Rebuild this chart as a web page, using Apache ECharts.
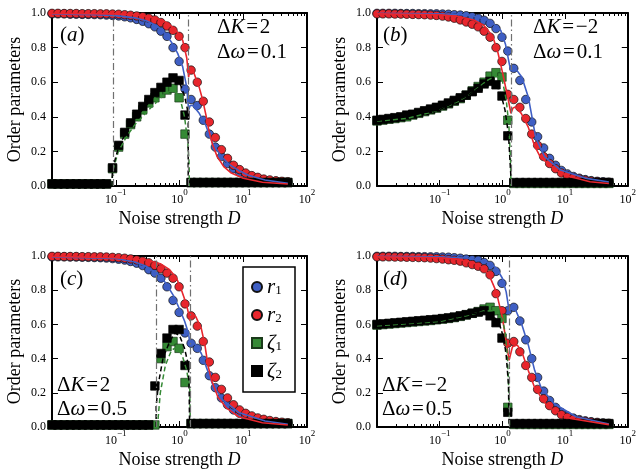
<!DOCTYPE html>
<html>
<head>
<meta charset="utf-8">
<script src="https://cdn.jsdelivr.net/npm/echarts@6/dist/echarts.min.js"></script>
<style>
  html, body { margin: 0; padding: 0; background: #fff; }
  #chart-container { width: 639px; height: 470px; }
</style>
</head>
<body>
<div id="chart-container"></div>
<script>
var dom = document.getElementById("chart-container");
var myChart = echarts.init(dom, null, { renderer: "canvas" });

// noise strengths of the simulation points (log spaced, 0.01 .. 50)
const D = [0.0100, 0.0124, 0.0155, 0.0193, 0.0240, 0.0298, 0.0371, 0.0462, 0.0575, 0.0715,
  0.0890, 0.111, 0.138, 0.171, 0.213, 0.265, 0.330, 0.411, 0.511, 0.636,
  0.791, 0.985, 1.22, 1.52, 1.90, 2.36, 2.94, 3.65, 4.55, 5.66,
  7.04, 8.76, 10.9, 13.6, 16.9, 21.0, 26.1, 32.5, 40.4, 50.0];

const majorTicks = [0.1, 1, 10, 100];
const minorTicks = [0.02, 0.03, 0.04, 0.05, 0.06, 0.07, 0.08, 0.09,
  0.2, 0.3, 0.4, 0.5, 0.6, 0.7, 0.8, 0.9,
  2, 3, 4, 5, 6, 7, 8, 9, 20, 30, 40, 50, 60, 70, 80, 90];

// ---- panel (a): dK = 2, dw = 0.1
const aR1 = [0.995,0.995,0.995,0.993,0.993,0.992,0.992,0.991,0.99,0.988,
  0.986,0.983,0.978,0.972,0.963,0.952,0.938,0.92,0.895,0.865,
  0.80,0.72,0.56,0.50,0.465,0.38,0.30,0.225,0.17,0.13,
  0.10,0.08,0.065,0.05,0.042,0.035,0.03,0.027,0.024,0.022];
const aR2 = [0.998,0.998,0.997,0.997,0.997,0.996,0.996,0.996,0.995,0.995,
  0.994,0.993,0.99,0.987,0.983,0.978,0.97,0.96,0.945,0.925,
  0.90,0.865,0.80,0.67,0.60,0.49,0.37,0.28,0.21,0.16,
  0.12,0.095,0.075,0.06,0.05,0.04,0.035,0.03,0.027,0.025];
const aZ1 = [0.012,0.012,0.012,0.012,0.012,0.012,0.012,0.012,0.012,0.012,
  0.10,0.225,0.30,0.355,0.40,0.44,0.48,0.51,0.535,0.555,
  0.565,0.51,0.30,0.02,0.02,0.02,0.02,0.02,0.02,0.02,
  0.02,0.02,0.02,0.02,0.02,0.02,0.02,0.02,0.02,0.02];
const aZ2 = [0.012,0.012,0.012,0.012,0.012,0.012,0.012,0.012,0.012,0.012,
  0.105,0.235,0.31,0.365,0.415,0.46,0.50,0.54,0.57,0.60,
  0.625,0.61,0.41,0.02,0.02,0.02,0.02,0.02,0.02,0.02,
  0.02,0.02,0.02,0.02,0.02,0.02,0.02,0.02,0.02,0.02];
const aR1Line = [[0.01,0.995],[0.05,0.99],[0.1,0.985],[0.2,0.972],[0.3,0.955],[0.45,0.925],[0.62,0.875],
  [0.8,0.815],[0.94,0.765],[1.12,0.69],[1.3,0.57],[1.39,0.44],[1.47,0.465],[1.61,0.467],[2.04,0.42],
  [2.59,0.35],[3.28,0.25],[4.0,0.2],[4.7,0.165],[6,0.125],[8.5,0.09],[12,0.062],[22,0.035],[50,0.015]];
const aR2Line = [[0.01,0.998],[0.1,0.995],[0.2,0.99],[0.3,0.982],[0.45,0.968],[0.6,0.948],[0.8,0.915],
  [1.0,0.875],[1.125,0.84],[1.3,0.74],[1.39,0.63],[1.47,0.685],[1.6,0.675],[2.04,0.57],[2.3,0.50],
  [2.6,0.41],[2.9,0.32],[3.3,0.24],[3.9,0.17],[5,0.11],[6.5,0.075],[10,0.045],[20,0.022],[50,0.012]];
const aZ1Line = [[0.087,0],[0.09,0.09],[0.11,0.2],[0.15,0.29],[0.2,0.355],[0.3,0.425],[0.45,0.49],
  [0.6,0.535],[0.8,0.555],[1.0,0.52],[1.2,0.40],[1.35,0.25],[1.42,0.12],[1.42,0]];
const aZ2Line = [[0.087,0],[0.089,0.10],[0.11,0.22],[0.14,0.30],[0.2,0.39],[0.3,0.465],[0.45,0.54],
  [0.6,0.59],[0.8,0.615],[1.0,0.6],[1.2,0.52],[1.32,0.45],[1.37,0.40],[1.37,0]];
const aTrans = [0.087, 1.39];

// ---- panel (b): dK = -2, dw = 0.1
const bR1 = [0.998,0.998,0.998,0.998,0.997,0.997,0.997,0.996,0.996,0.995,
  0.995,0.994,0.993,0.99,0.988,0.984,0.978,0.97,0.958,0.94,
  0.91,0.86,0.78,0.68,0.61,0.50,0.37,0.285,0.22,0.16,
  0.12,0.09,0.07,0.055,0.045,0.037,0.031,0.027,0.024,0.022];
const bR2 = [0.995,0.995,0.995,0.994,0.994,0.993,0.992,0.991,0.99,0.988,
  0.986,0.982,0.977,0.97,0.96,0.948,0.935,0.92,0.895,0.86,
  0.80,0.72,0.53,0.50,0.455,0.39,0.30,0.235,0.17,0.13,
  0.10,0.075,0.06,0.048,0.04,0.033,0.028,0.025,0.022,0.02];
const bZ1 = [0.376,0.381,0.386,0.39,0.395,0.40,0.41,0.42,0.43,0.44,
  0.45,0.462,0.475,0.49,0.505,0.525,0.55,0.575,0.60,0.635,
  0.655,0.63,0.38,0.015,0.015,0.015,0.015,0.015,0.015,0.015,
  0.015,0.015,0.015,0.015,0.015,0.015,0.015,0.015,0.015,0.015];
const bZ2 = [0.38,0.385,0.39,0.395,0.40,0.41,0.415,0.425,0.435,0.445,
  0.455,0.467,0.48,0.495,0.51,0.525,0.545,0.565,0.59,0.605,
  0.585,0.52,0.29,0.02,0.02,0.02,0.02,0.02,0.02,0.02,
  0.02,0.02,0.02,0.02,0.02,0.02,0.02,0.02,0.02,0.02];
const bR1Line = [[0.01,0.998],[0.1,0.996],[0.3,0.988],[0.62,0.957],[0.94,0.90],[1.12,0.82],[1.3,0.70],
  [1.37,0.665],[1.45,0.68],[1.61,0.68],[2.04,0.63],[2.59,0.515],[3.0,0.39],[3.4,0.28],[4.7,0.17],
  [8.5,0.092],[22,0.044],[50,0.023]];
const bR2Line = [[0.01,0.995],[0.1,0.99],[0.2,0.98],[0.35,0.96],[0.5,0.93],[0.7,0.865],[0.85,0.77],
  [1.0,0.66],[1.24,0.50],[1.37,0.42],[1.47,0.45],[1.61,0.457],[2.0,0.42],[2.59,0.34],[3.28,0.23],
  [4.0,0.17],[5.3,0.13],[8,0.08],[12.2,0.054],[25,0.025],[50,0.014]];
const bZ1Line = [[0.01,0.375],[0.03,0.39],[0.1,0.44],[0.2,0.49],[0.3,0.53],[0.45,0.58],[0.6,0.615],
  [0.8,0.635],[1.0,0.61],[1.15,0.50],[1.27,0.35],[1.35,0.15],[1.37,0]];
const bZ2Line = [[0.01,0.378],[0.1,0.44],[0.3,0.53],[0.5,0.585],[0.65,0.60],[0.8,0.585],[0.95,0.53],
  [1.1,0.44],[1.25,0.3],[1.37,0.05],[1.37,0]];
const bTrans = [1.39];

// ---- panel (c): dK = 2, dw = 0.5
const cR1 = [0.995,0.995,0.995,0.994,0.994,0.993,0.992,0.991,0.99,0.988,
  0.985,0.981,0.976,0.968,0.958,0.944,0.92,0.90,0.87,0.82,
  0.74,0.67,0.55,0.49,0.46,0.39,0.30,0.23,0.17,0.13,
  0.10,0.08,0.062,0.05,0.042,0.035,0.03,0.027,0.024,0.022];
const cR2 = [0.998,0.998,0.997,0.997,0.997,0.996,0.996,0.995,0.995,0.994,
  0.992,0.99,0.987,0.983,0.977,0.97,0.96,0.945,0.925,0.90,
  0.87,0.82,0.72,0.65,0.59,0.50,0.38,0.29,0.22,0.17,
  0.13,0.10,0.08,0.065,0.053,0.045,0.038,0.032,0.028,0.025];
const cZ1 = [0.012,0.012,0.012,0.012,0.012,0.012,0.012,0.012,0.012,0.012,
  0.012,0.012,0.012,0.012,0.012,0.012,0.012,0.012,0.40,0.47,
  0.50,0.46,0.26,0.02,0.02,0.02,0.02,0.02,0.02,0.02,
  0.02,0.02,0.02,0.02,0.02,0.02,0.02,0.02,0.02,0.02];
const cZ2 = [0.012,0.012,0.012,0.012,0.012,0.012,0.012,0.012,0.012,0.012,
  0.012,0.012,0.012,0.012,0.012,0.012,0.012,0.24,0.43,0.52,
  0.57,0.57,0.36,0.02,0.02,0.02,0.02,0.02,0.02,0.02,
  0.02,0.02,0.02,0.02,0.02,0.02,0.02,0.02,0.02,0.02];
const cR1Line = [[0.01,0.995],[0.1,0.985],[0.2,0.965],[0.3,0.94],[0.45,0.895],[0.6,0.845],[0.8,0.77],
  [1.0,0.69],[1.2,0.62],[1.38,0.55],[1.47,0.48],[1.56,0.505],[1.8,0.48],[2.2,0.43],[2.7,0.34],
  [3.3,0.25],[4.7,0.16],[8.5,0.085],[22,0.035],[50,0.016]];
const cR2Line = [[0.01,0.998],[0.1,0.99],[0.3,0.977],[0.5,0.955],[0.7,0.92],[0.9,0.87],[1.1,0.79],
  [1.3,0.71],[1.47,0.62],[1.56,0.665],[1.8,0.645],[2.2,0.575],[2.5,0.48],[2.8,0.36],[3.2,0.27],
  [4,0.175],[5.5,0.11],[8.5,0.06],[20,0.025],[50,0.012]];
const cZ1Line = [[0.45,0],[0.5,0.2],[0.6,0.36],[0.75,0.45],[0.9,0.465],[1.1,0.42],[1.3,0.33],
  [1.45,0.22],[1.48,0]];
const cZ2Line = [[0.43,0],[0.43,0.12],[0.47,0.26],[0.55,0.40],[0.7,0.50],[0.85,0.55],[1.0,0.535],
  [1.2,0.46],[1.38,0.36],[1.42,0.2],[1.44,0]];
const cTrans = [0.435, 1.47];

// ---- panel (d): dK = -2, dw = 0.5
const dR1 = [0.998,0.998,0.998,0.998,0.997,0.997,0.997,0.996,0.996,0.995,
  0.995,0.994,0.993,0.99,0.987,0.982,0.978,0.975,0.962,0.945,
  0.91,0.84,0.68,0.70,0.62,0.51,0.40,0.29,0.21,0.155,
  0.115,0.085,0.065,0.052,0.043,0.036,0.031,0.027,0.024,0.022];
const dR2 = [0.995,0.995,0.995,0.994,0.994,0.993,0.992,0.991,0.99,0.988,
  0.985,0.982,0.978,0.975,0.97,0.96,0.95,0.94,0.925,0.89,
  0.78,0.68,0.49,0.50,0.44,0.36,0.29,0.22,0.165,0.125,
  0.095,0.072,0.057,0.046,0.038,0.032,0.028,0.025,0.022,0.02];
const dZ1 = [0.596,0.599,0.602,0.605,0.608,0.611,0.614,0.617,0.62,0.623,
  0.627,0.631,0.635,0.64,0.647,0.655,0.665,0.675,0.69,0.70,
  0.68,0.635,0.115,0.015,0.015,0.015,0.015,0.015,0.015,0.015,
  0.015,0.015,0.015,0.015,0.015,0.015,0.015,0.015,0.015,0.015];
const dZ2 = [0.60,0.603,0.606,0.609,0.612,0.615,0.618,0.621,0.624,0.627,
  0.63,0.634,0.638,0.643,0.65,0.657,0.665,0.672,0.68,0.65,
  0.61,0.52,0.086,0.02,0.02,0.02,0.02,0.02,0.02,0.02,
  0.02,0.02,0.02,0.02,0.02,0.02,0.02,0.02,0.02,0.02];
const dR1Line = [[0.01,0.998],[0.1,0.996],[0.3,0.987],[0.6,0.962],[0.8,0.93],[1.0,0.87],[1.15,0.79],
  [1.28,0.68],[1.4,0.695],[1.6,0.69],[2.04,0.60],[2.59,0.48],[3.28,0.33],[4.16,0.23],[6.7,0.136],
  [15,0.06],[50,0.018]];
const dR2Line = [[0.01,0.995],[0.1,0.99],[0.2,0.98],[0.35,0.96],[0.5,0.93],[0.62,0.885],[0.8,0.79],
  [1.0,0.64],[1.15,0.50],[1.28,0.39],[1.45,0.47],[1.72,0.48],[2.04,0.44],[2.59,0.33],[3.28,0.23],
  [5.3,0.116],[12.2,0.05],[50,0.014]];
const dZ1Line = [[0.01,0.592],[0.1,0.617],[0.3,0.655],[0.5,0.678],[0.7,0.68],[0.9,0.66],[1.0,0.63],
  [1.1,0.56],[1.2,0.42],[1.27,0.2],[1.3,0]];
const dZ2Line = [[0.01,0.597],[0.1,0.622],[0.3,0.66],[0.5,0.672],[0.7,0.655],[0.9,0.60],[1.05,0.52],
  [1.15,0.42],[1.25,0.25],[1.28,0]];
const dTrans = [1.30];

const BLUE = "#3f5fc4", RED = "#e8262d", GREEN = "#358a35", BLACK = "#000";
const SERIF = "'Liberation Serif', 'Times New Roman', serif";

const panels = [
  { grid: { left: 52, top: 13, width: 255, height: 173 }, r1: aR1, r2: aR2, z1: aZ1, z2: aZ2,
    r1L: aR1Line, r2L: aR2Line, z1L: aZ1Line, z2L: aZ2Line, trans: aTrans },
  { grid: { left: 377, top: 13, width: 256, height: 173 }, r1: bR1, r2: bR2, z1: bZ1, z2: bZ2,
    r1L: bR1Line, r2L: bR2Line, z1L: bZ1Line, z2L: bZ2Line, trans: bTrans },
  { grid: { left: 52, top: 256, width: 255, height: 174 }, r1: cR1, r2: cR2, z1: cZ1, z2: cZ2,
    r1L: cR1Line, r2L: cR2Line, z1L: cZ1Line, z2L: cZ2Line, trans: cTrans },
  { grid: { left: 377, top: 256, width: 256, height: 174 }, r1: dR1, r2: dR2, z1: dZ1, z2: dZ2,
    r1L: dR1Line, r2L: dR2Line, z1L: dZ1Line, z2L: dZ2Line, trans: dTrans }
];

function expLabel(value) {
  const e = Math.round(Math.log10(value));
  return "{b|10}{s|" + (e < 0 ? "\u2212" + (-e) : e) + "}";
}

var grids = [], xAxes = [], yAxes = [], series = [];

panels.forEach(function (p, i) {
  grids.push(p.grid);
  const frame = { show: true, onZero: false, lineStyle: { color: "#000", width: 2 } };
  const baseX = { gridIndex: i, type: "log", logBase: 10, min: 0.01, max: 100, splitLine: { show: false } };
  // bottom: frame, major ticks, labels, name
  xAxes.push(Object.assign({}, baseX, {
    position: "bottom",
    axisLine: frame,
    axisTick: { inside: true, length: 6, customValues: majorTicks, lineStyle: { color: "#000", width: 1 } },
    axisLabel: {
      customValues: majorTicks, margin: 2, formatter: expLabel, color: "#000",
      rich: {
        b: { fontFamily: SERIF, fontSize: 12, lineHeight: 18, verticalAlign: "bottom", color: "#000" },
        s: { fontFamily: SERIF, fontSize: 9, lineHeight: 9, verticalAlign: "top", color: "#000" }
      }
    },
    name: "Noise strength {i|D}", nameLocation: "middle", nameGap: 24,
    nameTextStyle: { fontFamily: SERIF, fontSize: 18, color: "#000",
      rich: { i: { fontFamily: SERIF, fontSize: 18, fontStyle: "italic", color: "#000" } } }
  }));
  // bottom minor ticks
  xAxes.push(Object.assign({}, baseX, {
    position: "bottom", axisLine: { show: false, onZero: false },
    axisTick: { inside: true, length: 3, customValues: minorTicks, lineStyle: { color: "#000", width: 1 } },
    axisLabel: { show: false }
  }));
  // top frame + ticks
  xAxes.push(Object.assign({}, baseX, {
    position: "top", axisLine: frame,
    axisTick: { inside: true, length: 6, customValues: majorTicks, lineStyle: { color: "#000", width: 1 } },
    axisLabel: { show: false }
  }));
  xAxes.push(Object.assign({}, baseX, {
    position: "top", axisLine: { show: false, onZero: false },
    axisTick: { inside: true, length: 3, customValues: minorTicks, lineStyle: { color: "#000", width: 1 } },
    axisLabel: { show: false }
  }));
  const baseY = { gridIndex: i, type: "value", min: 0, max: 1, interval: 0.2, splitLine: { show: false } };
  yAxes.push(Object.assign({}, baseY, {
    position: "left", axisLine: frame,
    axisTick: { show: true, inside: true, length: 6, lineStyle: { color: "#000", width: 1 } },
    axisLabel: { formatter: function (v) { return v.toFixed(1); }, fontFamily: SERIF, fontSize: 12, color: "#000", margin: 6 },
    name: "Order parameters", nameLocation: "middle", nameGap: 28,
    nameTextStyle: { fontFamily: SERIF, fontSize: 18, color: "#000" }
  }));
  yAxes.push(Object.assign({}, baseY, {
    position: "right", axisLine: frame,
    axisTick: { show: true, inside: true, length: 6, lineStyle: { color: "#000", width: 1 } },
    axisLabel: { show: false }
  }));

  const xi = i * 4, yi = i * 2;
  const pts = function (vals) { return D.map(function (d, k) { return [d, vals[k]]; }); };
  const common = { xAxisIndex: xi, yAxisIndex: yi, animation: false, silent: true };

  // transition markers (dash-dot)
  series.push(Object.assign({}, common, {
    type: "line", name: "trans" + i, data: [], showSymbol: false,
    markLine: {
      silent: true, symbol: ["none", "none"], label: { show: false }, animation: false,
      lineStyle: { color: "#707070", width: 1.2, type: [7, 3, 1.5, 3] },
      data: p.trans.map(function (t) { return { xAxis: t }; })
    }
  }));
  series.push(Object.assign({}, common, { type: "scatter", name: "r1", symbol: "circle", symbolSize: 8.5,
    itemStyle: { color: BLUE, borderColor: "#111", borderWidth: 0.7, opacity: 1 }, data: pts(p.r1) }));
  series.push(Object.assign({}, common, { type: "scatter", name: "r2", symbol: "circle", symbolSize: 8.5,
    itemStyle: { color: RED, borderColor: "#111", borderWidth: 0.7, opacity: 1 }, data: pts(p.r2) }));
  series.push(Object.assign({}, common, { type: "scatter", name: "ζ1", symbol: "rect", symbolSize: 8.5,
    itemStyle: { color: GREEN, borderColor: "#1a3a1a", borderWidth: 0.7, opacity: 1 }, data: pts(p.z1) }));
  series.push(Object.assign({}, common, { type: "scatter", name: "ζ2", symbol: "rect", symbolSize: 8.5,
    itemStyle: { color: BLACK, borderColor: "#000", borderWidth: 0.7, opacity: 1 }, data: pts(p.z2) }));
  series.push(Object.assign({}, common, { type: "line", name: "r1 theory", data: p.r1L, showSymbol: false,
    lineStyle: { color: BLUE, width: 1.6 } }));
  series.push(Object.assign({}, common, { type: "line", name: "r2 theory", data: p.r2L, showSymbol: false,
    lineStyle: { color: RED, width: 1.6 } }));
  series.push(Object.assign({}, common, { type: "line", name: "ζ1 theory", data: p.z1L, showSymbol: false,
    lineStyle: { color: GREEN, width: 1.5, type: [5, 3] } }));
  series.push(Object.assign({}, common, { type: "line", name: "ζ2 theory", data: p.z2L, showSymbol: false,
    lineStyle: { color: BLACK, width: 1.5, type: [5, 3] } }));
});

const annoRich = {
  u: { fontFamily: SERIF, fontSize: 21, color: "#000" },
  i: { fontFamily: SERIF, fontSize: 21, fontStyle: "italic", color: "#000" }
};
function anno(text, left, top) {
  return { text: text, left: left, top: top, padding: 0,
    textStyle: { fontFamily: SERIF, fontSize: 21, fontWeight: "normal", color: "#000", rich: annoRich } };
}

const legendNames = { "r1": "{i|r}{s|1}", "r2": "{i|r}{s|2}", "ζ1": "{i|ζ}{s|1}", "ζ2": "{i|ζ}{s|2}" };

option = {
  backgroundColor: "#fff",
  animation: false,
  grid: grids,
  xAxis: xAxes,
  yAxis: yAxes,
  title: [
    anno("{u|(}{i|a}{u|)}", 60, 25),
    anno("{u|Δ}{i|K}{u|\u200a=\u200a2}", 217, 17),
    anno("{u|Δ}{i|ω}{u|\u200a=\u200a0.1}", 217, 42),
    anno("{u|(}{i|b}{u|)}", 383, 25),
    anno("{u|Δ}{i|K}{u|\u200a=\u200a−2}", 533, 17),
    anno("{u|Δ}{i|ω}{u|\u200a=\u200a0.1}", 533, 42),
    anno("{u|(}{i|c}{u|)}", 60, 269),
    anno("{u|Δ}{i|K}{u|\u200a=\u200a2}", 57, 375),
    anno("{u|Δ}{i|ω}{u|\u200a=\u200a0.5}", 57, 399),
    anno("{u|(}{i|d}{u|)}", 383, 269),
    anno("{u|Δ}{i|K}{u|\u200a=\u200a−2}", 382, 375),
    anno("{u|Δ}{i|ω}{u|\u200a=\u200a0.5}", 382, 399)
  ],
  legend: {
    data: ["r1", "r2", "ζ1", "ζ2"],
    orient: "vertical", left: 243, top: 267,
    padding: [10, 13, 10, 8], itemGap: 7, itemWidth: 10, itemHeight: 10,
    backgroundColor: "#fff", borderColor: "#000", borderWidth: 1.5, borderRadius: 0,
    selectedMode: false,
    formatter: function (name) { return legendNames[name]; },
    textStyle: {
      fontFamily: SERIF, fontSize: 19, color: "#000",
      rich: {
        i: { fontFamily: SERIF, fontSize: 21, fontStyle: "italic", lineHeight: 20, verticalAlign: "top", color: "#000" },
        s: { fontFamily: SERIF, fontSize: 13, lineHeight: 12, verticalAlign: "bottom", color: "#000" }
      }
    }
  },
  series: series
};

if (option && typeof option === "object") {
  myChart.setOption(option);
}

window.addEventListener("resize", myChart.resize);
</script>
</body>
</html>
